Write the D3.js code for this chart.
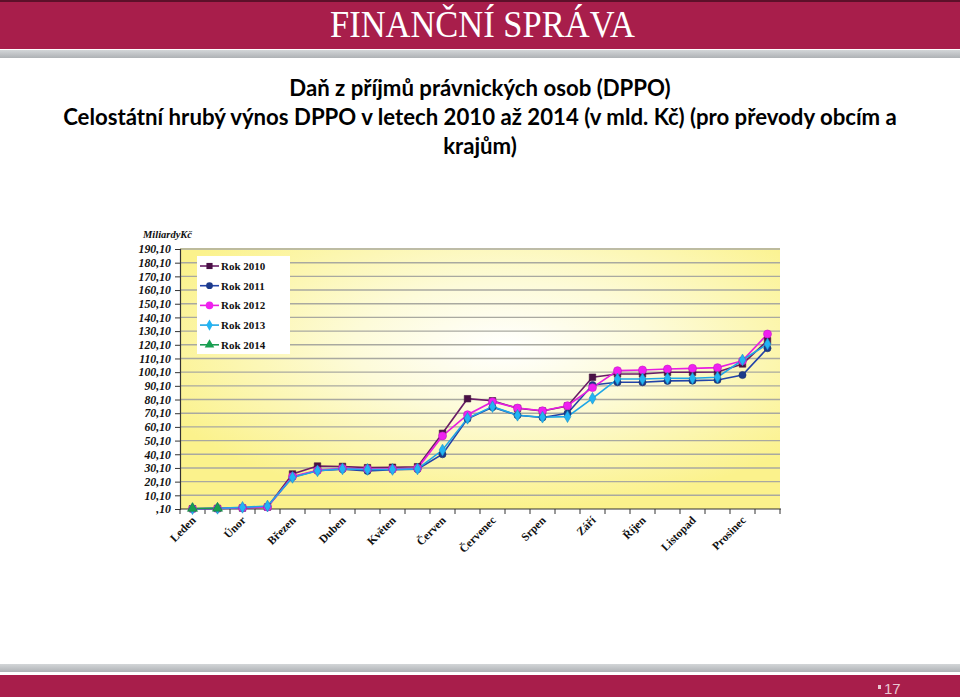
<!DOCTYPE html>
<html><head><meta charset="utf-8">
<script src="https://cdn.jsdelivr.net/npm/d3@7/dist/d3.min.js"></script>
<style>html,body{margin:0;padding:0;background:#fff;}svg{display:block;}</style>
</head><body>
<script>
const months = ["Leden","Únor","Březen","Duben","Květen","Červen","Červenec","Srpen","Září","Říjen","Listopad","Prosinec"];
const points = d3.range(24);
const yTicks = [0.1,10.1,20.1,30.1,40.1,50.1,60.1,70.1,80.1,90.1,100.1,110.1,120.1,130.1,140.1,150.1,160.1,170.1,180.1,190.1];
const seriesNames = ["Rok 2010","Rok 2011","Rok 2012","Rok 2013","Rok 2014"];
const v2010 = [0.3,0.5,0.8,1.5,25.7,31.5,31.2,30.3,30.6,31.0,55.4,80.7,79.2,73.7,71.7,75.4,96.4,98.8,98.8,100.0,100.0,100.2,106.1,123.1];
const v2011 = [0.3,0.5,1.0,1.8,23.5,28.0,29.2,27.9,28.8,29.2,40.1,66.0,74.5,68.6,67.0,70.1,90.7,92.7,92.7,93.7,93.9,94.4,98.0,117.6];
const v2012 = [0.3,0.5,1.0,1.5,23.8,28.3,29.8,29.3,29.3,29.8,53.5,69.0,78.5,73.9,71.9,75.6,88.8,101.2,101.7,102.4,102.9,103.4,108.5,128.0];
const v2013 = [0.3,0.6,1.3,2.3,23.2,28.0,29.4,29.0,29.0,29.4,43.2,66.4,74.9,68.6,67.2,67.6,81.0,95.1,95.1,95.6,95.6,96.4,109.0,120.7];
const v2014 = [0.5,0.6];

const series = [
  {name:seriesNames[0], values:v2010, line:"#6a1d66", fill:"#4a1046", shape:d3.symbolSquare, size:42},
  {name:seriesNames[1], values:v2011, line:"#2343a8", fill:"#1c3a8a", shape:d3.symbolCircle, size:40},
  {name:seriesNames[2], values:v2012, line:"#e81ee0", fill:"#f020f0", shape:d3.symbolCircle, size:50},
  {name:seriesNames[3], values:v2013, line:"#1fa6e6", fill:"#22b4f4", shape:d3.symbolDiamond, size:40},
  {name:seriesNames[4], values:v2014, line:"#1a9a52", fill:"#17a050", shape:d3.symbolTriangle, size:44}
];

const W=960,H=697;
const svg = d3.select("body").append("svg").attr("width",W).attr("height",H);
const defs = svg.append("defs");

// header
const hg = defs.append("linearGradient").attr("id","grayBar").attr("x1",0).attr("y1",0).attr("x2",0).attr("y2",1);
hg.append("stop").attr("offset","0%").attr("stop-color","#d3d6d8");
hg.append("stop").attr("offset","100%").attr("stop-color","#aeb2b5");
svg.append("rect").attr("x",0).attr("y",0).attr("width",W).attr("height",49).attr("fill","#a81e4b");
svg.append("rect").attr("x",0).attr("y",0).attr("width",W).attr("height",2).attr("fill","#5c1029");
svg.append("rect").attr("x",0).attr("y",50).attr("width",W).attr("height",8).attr("fill","url(#grayBar)");
svg.append("text").attr("x",330).attr("y",37)
  .attr("font-family","Liberation Serif, DejaVu Serif, serif").attr("font-size",37).attr("fill","#fff")
  .attr("textLength",305).attr("lengthAdjust","spacingAndGlyphs").text("FINANČNÍ SPRÁVA");

// footer
svg.append("rect").attr("x",0).attr("y",664).attr("width",W).attr("height",8).attr("fill","url(#grayBar)");
svg.append("rect").attr("x",0).attr("y",675).attr("width",W).attr("height",22).attr("fill","#a81e4b");
svg.append("rect").attr("x",878).attr("y",685).attr("width",3).attr("height",4).attr("fill","#e8c8d2");
svg.append("text").attr("x",884).attr("y",694).attr("font-family","Liberation Sans, sans-serif").attr("font-size",15)
  .attr("fill","#e8c8d2").text("17");

// title
const title = svg.append("text").attr("text-anchor","middle").attr("font-family","Lato, 'Open Sans', sans-serif")
  .attr("font-weight",700).attr("font-size",22.2).attr("fill","#000");
title.append("tspan").attr("x",480).attr("y",96).text("Daň z příjmů právnických osob (DPPO)");
title.append("tspan").attr("x",480).attr("y",125).text("Celostátní hrubý výnos DPPO v letech 2010 až 2014 (v mld. Kč) (pro převody obcím a");
title.append("tspan").attr("x",480).attr("y",154).text("krajům)");

// chart
const x0=180,x1=780,yTop=249,yBot=509;
const x = d3.scaleBand().domain(points).range([x0,x1]);
const y = d3.scaleLinear().domain([0.1,190.1]).range([yBot,yTop]);

const rg = defs.append("radialGradient").attr("id","plotBg").attr("cx","54%").attr("cy","38%").attr("r","62%")
  .attr("fx","54%").attr("fy","38%");
rg.append("stop").attr("offset","0%").attr("stop-color","#ffffff");
rg.append("stop").attr("offset","40%").attr("stop-color","#fdfbd9");
rg.append("stop").attr("offset","100%").attr("stop-color","#fbf28c");
svg.append("rect").attr("x",x0).attr("y",yTop-1).attr("width",x1-x0).attr("height",yBot-yTop+1).attr("fill","url(#plotBg)");

// gridlines
svg.append("g").selectAll("line").data(yTicks.slice(1)).join("line")
  .attr("x1",x0).attr("x2",x1).attr("y1",d=>y(d)).attr("y2",d=>y(d))
  .attr("stroke","#a9a9a0").attr("stroke-width",1.4);

// y axis
const yAxis = svg.append("g").attr("transform",`translate(${x0},0)`)
  .call(d3.axisLeft(y).tickValues(yTicks).tickSize(5).tickPadding(4)
    .tickFormat(d=> d3.format(".2f")(d).replace(/^0/,"").replace(".",",")));
yAxis.select(".domain").attr("stroke","#333").attr("stroke-width",1.2);
yAxis.selectAll(".tick line").attr("stroke","#333");
yAxis.selectAll("text").attr("font-family","Liberation Serif, serif").attr("font-weight",700)
  .attr("font-style","italic").attr("font-size",11.8).attr("fill","#111");

svg.append("text").attr("x",143).attr("y",238).attr("font-family","Liberation Serif, serif").attr("font-weight",700)
  .attr("font-style","italic").attr("font-size",10.5).attr("fill","#111").text("MiliardyKč");

// x axis
const xg = svg.append("g");
xg.append("line").attr("x1",x0).attr("x2",x1+1).attr("y1",yBot).attr("y2",yBot).attr("stroke","#333").attr("stroke-width",1.2);
xg.selectAll("line.tk").data(d3.range(25)).join("line").attr("class","tk")
  .attr("x1",d=>x0+d*x.step()).attr("x2",d=>x0+d*x.step()).attr("y1",yBot).attr("y2",yBot+5)
  .attr("stroke","#333");
xg.selectAll("text").data(months).join("text")
  .attr("transform",(d,i)=>`translate(${x(i*2)+x.bandwidth()/2+4},${yBot+12}) rotate(-45)`)
  .attr("text-anchor","end").attr("font-family","Liberation Serif, serif").attr("font-weight",700)
  .attr("font-size",11.5).attr("fill","#111").text(d=>d);

// lines
const line = d3.line().x((d,i)=>x(i)+x.bandwidth()/2).y(d=>y(d));
series.forEach(s=>{
  svg.append("path").datum(s.values).attr("d",line).attr("fill","none")
    .attr("stroke",s.line).attr("stroke-width",1.6);
});
series.forEach(s=>{
  svg.append("g").selectAll("path").data(s.values).join("path")
    .attr("transform",(d,i)=>`translate(${x(i)+x.bandwidth()/2},${y(d)})`)
    .attr("d",d3.symbol().type(s.shape).size(s.size))
    .attr("fill",s.fill).attr("stroke",d3.color(s.fill).darker(0.6)).attr("stroke-width",0.6);
});

// legend
const lg = svg.append("g");
lg.append("rect").attr("x",197).attr("y",256).attr("width",93).attr("height",98).attr("fill","#fff");
series.forEach((s,i)=>{
  const yy = 266+i*19.7;
  lg.append("line").attr("x1",200).attr("x2",219).attr("y1",yy).attr("y2",yy).attr("stroke",s.line).attr("stroke-width",1.6);
  lg.append("path").attr("transform",`translate(209.5,${yy})`).attr("d",d3.symbol().type(s.shape).size(s.size*0.9))
    .attr("fill",s.fill);
  lg.append("text").attr("x",221).attr("y",yy+4).attr("font-family","Liberation Serif, serif").attr("font-weight",700)
    .attr("font-size",11).attr("fill","#111").text(s.name);
});
</script>
</body></html>
